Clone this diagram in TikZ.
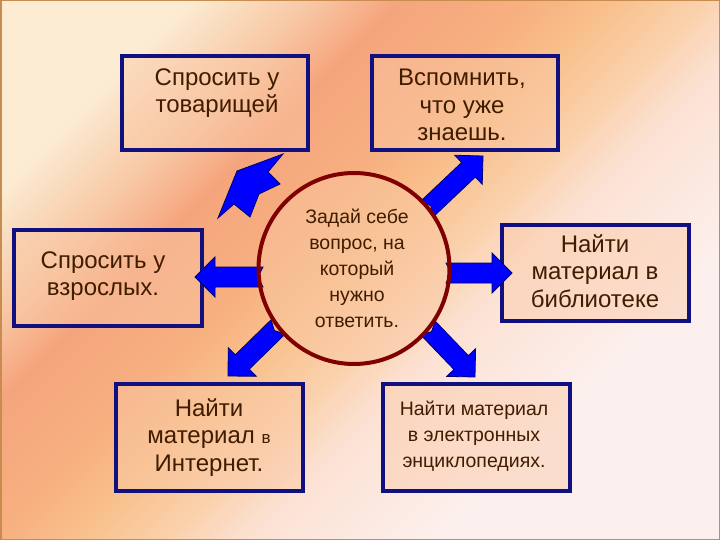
\documentclass[tikz,border=0pt]{standalone}
\usepackage{fontspec}
\setmainfont{Liberation Sans}
\usetikzlibrary{calc}
\definecolor{navy}{RGB}{16,16,128}
\definecolor{dred}{RGB}{128,0,0}
\definecolor{txtc}{RGB}{64,28,0}
\definecolor{arrblue}{RGB}{0,0,255}
\definecolor{arrline}{RGB}{0,0,110}
\definecolor{boxfill}{RGB}{250,200,165}
\definecolor{frame}{RGB}{200,140,80}
\definecolor{bgA}{RGB}{252,236,212}
\definecolor{bgB}{RGB}{248,200,165}
\definecolor{bgC}{RGB}{245,165,125}
\definecolor{bgD}{RGB}{247,175,128}
\definecolor{bgE}{RGB}{249,192,140}
\definecolor{bgF}{RGB}{250,208,170}
\definecolor{bgG}{RGB}{252,226,212}
\definecolor{bgH}{RGB}{252,240,238}
\pgfdeclarehorizontalshading{bgshade}{100bp}{color(0bp)=(bgA); color(25bp)=(bgA); color(32bp)=(bgB); color(37bp)=(bgC); color(44bp)=(bgD); color(49bp)=(bgE); color(54bp)=(bgF); color(59bp)=(bgG); color(70bp)=(bgH); color(100bp)=(bgH)}
\tikzset{
  box/.style={draw=navy, line width=4pt, fill=boxfill, fill opacity=0.45, inner sep=0pt},
  txt/.style={text=txtc, align=center, inner sep=0pt, font=\fontsize{24}{27.5}\selectfont},
  stxt/.style={text=txtc, align=center, inner sep=0pt, font=\fontsize{19.5}{26}\selectfont},
  arr/.style={fill=arrblue, draw=arrline, line width=0.8pt, line join=miter},
}
\newcommand\blkarr[3]{%
  \coordinate (#3hb) at ($(#2)!20pt!(#1)$);
  \coordinate (#3nt) at ($(#1)!5pt!(#2)$);
  \filldraw[arr] ($(#1)!10pt!90:(#2)$) -- ($(#3hb)!10pt!90:(#2)$) -- ($(#3hb)!20pt!90:(#2)$) -- (#2) -- ($(#3hb)!20pt!-90:(#2)$) -- ($(#3hb)!10pt!-90:(#2)$) -- ($(#1)!10pt!-90:(#2)$) -- (#3nt) -- cycle;
}
\begin{document}
\begin{tikzpicture}[x=1pt,y=-1pt]
\useasboundingbox (0,0) rectangle (720,540);
\shade[shading=bgshade, shading angle=-45] (0,0) rectangle (720,540);
\draw[frame, line width=1.5pt] (0.75,0.75) rectangle (719.25,539.25);

% boxes
\node[box, minimum width=186pt, minimum height=94pt] (b1) at (215,103) {};
\node[box, minimum width=186pt, minimum height=94pt] (b2) at (465,103) {};
\node[box, minimum width=188pt, minimum height=96pt] (b3) at (107.5,278) {};
\node[box, minimum width=187pt, minimum height=96pt] (b4) at (595,273) {};
\node[box, minimum width=187pt, minimum height=107pt] (b5) at (209.5,437) {};
\node[box, minimum width=187pt, minimum height=107pt] (b6) at (476,437) {};

\node[txt] (t1) at (217,93) {Спросить у\\товарищей};
\node[txt] (t2) at (462,105) {Вспомнить,\\что уже\\знаешь.};
\node[txt] (t3) at (103,276) {Спросить у\\взрослых.};
\node[txt] (t4) at (595,271) {Найти\\материал в\\библиотеке};
\node[txt] (t5) at (209,437.5) {Найти\\материал {\fontsize{17}{20}\selectfont в}\\Интернет.};
\node[stxt] (t6) at (474,436) {Найти материал\\в электронных\\энциклопедиях.};

% circle fill
\node[circle, fill=boxfill, fill opacity=0.45, minimum size=191pt, inner sep=0pt] (c) at (354,268.5) {};

% arrows
\coordinate (aLt) at (263,277);
\coordinate (aLh) at (195,277);
\coordinate (aRt) at (446,273);
\coordinate (aRh) at (512,273);
\coordinate (aURt) at (427,209);
\coordinate (aURh) at (483,156);
\coordinate (aDLt) at (278,327);
\coordinate (aDLh) at (228,376);
\coordinate (aDRt) at (428,328);
\coordinate (aDRh) at (475,377);
\blkarr{aLt}{aLh}{l}
\blkarr{aRt}{aRh}{r}
\blkarr{aURt}{aURh}{ur}
\blkarr{aDLt}{aDLh}{dl}
\blkarr{aDRt}{aDRh}{dr}
% odd top-left arrow
\filldraw[arr] (283,154) -- (237,171) -- (218,218) -- (234,204) -- (250,217) -- (259,194) -- (280,184) -- (268,172) -- cycle;

% circle border
\node[circle, draw=dred, line width=4pt, minimum size=191pt, inner sep=0pt] (cb) at (c) {};
\node[stxt] (ct) at (357,268) {Задай себе\\вопрос, на\\который\\нужно\\ответить.};
\end{tikzpicture}
\end{document}
